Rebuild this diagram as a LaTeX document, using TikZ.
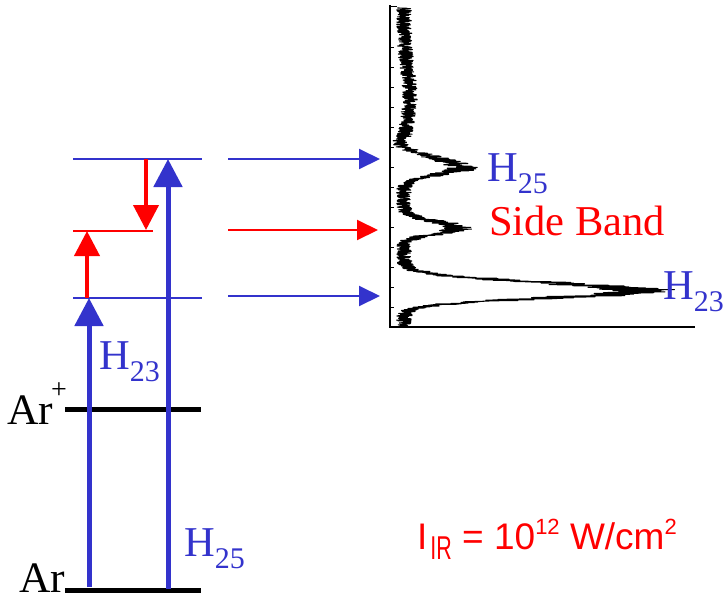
\documentclass[tikz,border=0pt]{standalone}
\usepackage{fontspec}
\setmainfont{Liberation Serif}
\newfontfamily\arialf{Liberation Sans}
\usetikzlibrary{arrows.meta}
\definecolor{hblue}{RGB}{51,51,204}
\definecolor{hred}{RGB}{255,0,0}
\newcommand{\Hsub}[1]{H\raisebox{-12pt}{\fontsize{30}{30}\selectfont #1}}
\begin{document}
\begin{tikzpicture}[x=1pt,y=-1pt,
  level/.style={hblue, line width=1.5pt},
  rlevel/.style={hred, line width=1.5pt},
  ground/.style={black, line width=5pt},
  bigarrow/.style={hblue, line width=5pt, -{Triangle[length=28pt,width=28pt]}},
  redarrow/.style={hred, line width=4pt, -{Triangle[length=25pt,width=25pt]}},
  thinarrow/.style={line width=2pt, -{Triangle[length=21pt,width=20pt]}},
  lbl/.style={inner sep=0pt, anchor=base west, font=\fontsize{42.5}{42.5}\selectfont},
  arlbl/.style={inner sep=0pt, anchor=base west, font=\fontsize{43.5}{43.5}\selectfont},
  declare function={
    bg(\t)=12+6*exp(-((\t-95)/35)^2)-7*exp(-((\t-143)/6)^2);
    pk(\t)=58*exp(-((\t-168)/(\t<168?13:9))^2)+55*exp(-((\t-228)/(\t<228?9:8))^2)+235*exp(-((\t-291)/(\t<291?12:10))^2);
  }]
\useasboundingbox (0,0) rectangle (725,598);
% level coordinates
\coordinate (L1a) at (73,159); \coordinate (L1b) at (202,159);
\coordinate (L3a) at (73,298); \coordinate (L3b) at (202,298);
\coordinate (Lra) at (73,231); \coordinate (Lrb) at (153,231);
\coordinate (Ip1) at (65,409); \coordinate (Ip2) at (201,409);
\coordinate (G1) at (65,590); \coordinate (G2) at (201,590);
% levels
\draw[level] (L1a) -- (L1b);
\draw[level] (L3a) -- (L3b);
\draw[rlevel] (Lra) -- (Lrb);
\draw[ground] (Ip1) -- (Ip2);
\draw[ground] (G1) -- (G2);
% vertical arrows
\coordinate (h25s) at (168,589); \coordinate (h25e) at (168,159);
\coordinate (h23s) at (89,587); \coordinate (h23e) at (89,298);
\coordinate (rus) at (87,298); \coordinate (rue) at (87,231);
\coordinate (rds) at (146,159); \coordinate (rde) at (146,230);
\draw[bigarrow] (h25s) -- (h25e);
\draw[bigarrow] (h23s) -- (h23e);
\draw[redarrow] (rus) -- (rue);
\draw[redarrow] (rds) -- (rde);
% horizontal arrows
\coordinate (a1s) at (228,159); \coordinate (a1e) at (380,159);
\coordinate (a2s) at (228,230); \coordinate (a2e) at (378,230);
\coordinate (a3s) at (228,296); \coordinate (a3e) at (380,296);
\draw[thinarrow, hblue] (a1s) -- (a1e);
\draw[thinarrow, hred] (a2s) -- (a2e);
\draw[thinarrow, hblue] (a3s) -- (a3e);
% spectrum axes
\coordinate (ax0) at (390,5); \coordinate (ax1) at (390,327); \coordinate (ax2) at (695,327);
\draw[line width=1.2pt] (ax0) -- (ax1) -- (ax2);
\draw[line width=1pt] (390,6) -- (397,6);
\foreach \yy in {47,67,...,307} \draw[line width=0.8pt] (390,\yy) -- (394,\yy);
% spectrum curve
\pgfmathsetseed{4711}
\draw[line width=1.1pt, line join=round] plot[domain=8:326, samples=1400, variable=\t]
  ({392+bg(\t)+pk(\t)+(7.5+0.14*pk(\t))*rand}, {\t});
% labels
\node[lbl, text=hblue] (h25r) at (487,181) {\Hsub{25}};
\node[lbl, text=hred] (sb) at (489,235) {Side Band};
\node[lbl, text=hblue] (h23r) at (663,299) {\Hsub{23}};
\node[lbl, text=hblue] (h23l) at (99,369) {\Hsub{23}};
\node[lbl, text=hblue] (h25l) at (184,556) {\Hsub{25}};
\node[arlbl] (arp) at (7,424) {Ar};
\node[inner sep=0pt, font=\fontsize{28}{28}\selectfont] (plus) at (59,391) {+};
\node[arlbl] (ar) at (19,592) {Ar};
\node[inner sep=0pt, anchor=base west, text=hred, font=\arialf\fontsize{37}{37}\selectfont] (iir) at (417,549)
  {I\hspace{3pt}\raisebox{-10pt}{\scalebox{0.65}[1]{\fontsize{33}{33}\selectfont IR}} = 10\raisebox{15pt}{\fontsize{22}{22}\selectfont 12} W/cm\raisebox{15pt}{\fontsize{22}{22}\selectfont 2}};
\end{tikzpicture}
\end{document}
